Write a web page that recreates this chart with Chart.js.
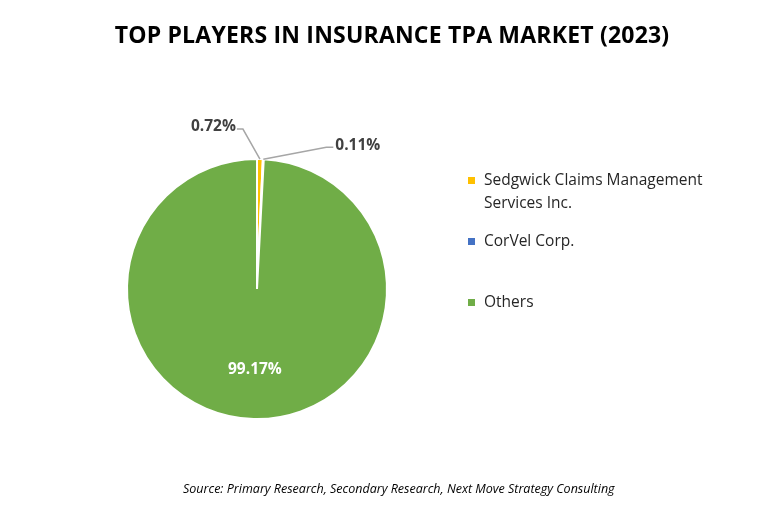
<!DOCTYPE html>
<html><head><meta charset="utf-8">
<script src="https://cdn.jsdelivr.net/npm/chart.js@4"></script>
<style>
body{margin:0;background:#fff;font-family:"Open Sans",sans-serif;}
#wrap{position:relative;width:784px;height:520px;}
#title{position:absolute;top:18px;left:0;width:784px;text-align:center;font-weight:bold;font-size:23px;color:#000;letter-spacing:0.2px}
#legend{position:absolute;left:468px;top:168px;font-size:15.5px;color:#262626;line-height:23px}
.item{position:relative;padding-left:16px;margin-bottom:0}
.sw{position:absolute;left:0;top:9px;width:7px;height:7px}
#src{position:absolute;top:480px;left:183px;font-style:italic;font-size:12.5px;color:#000}
canvas{position:absolute;left:0;top:0}
</style></head><body>
<div id="wrap">
<canvas id="c" width="784" height="520"></canvas>
<div id="title">TOP PLAYERS IN INSURANCE TPA MARKET (2023)</div>
<div id="legend">
<div class="item"><span class="sw" style="background:#FFC000"></span>Sedgwick Claims Management<br>Services Inc.</div>
<div class="item" style="margin-top:15px"><span class="sw" style="background:#4472C4"></span>CorVel Corp.</div>
<div class="item" style="margin-top:38px"><span class="sw" style="background:#70AD47"></span>Others</div>
</div>
<div id="src">Source: Primary Research, Secondary Research, Next Move Strategy Consulting</div>
</div>
<script>
const categories=["Sedgwick Claims Management Services Inc.","CorVel Corp.","Others"];
const values=[0.72,0.11,99.17];
const colors=["#FFC000","#4472C4","#70AD47"];
const labelPlugin={id:'lbl',afterDatasetsDraw(chart){
 const ctx=chart.ctx;const arcs=chart.getDatasetMeta(0).data;
 ctx.save();ctx.font='bold 15.5px "Open Sans"';
 arcs.forEach((a,i)=>{
  const mid=(a.startAngle+a.endAngle)/2;const r=a.outerRadius;
  const txt=values[i].toFixed(2)+'%';
  if(i===2){ctx.fillStyle='#fff';ctx.textAlign='center';ctx.textBaseline='middle';
    ctx.fillText(txt,a.x+Math.cos(mid)*r*0.62,a.y+Math.sin(mid)*r*0.62);return;}
  const sx=a.x+Math.cos(mid)*r,sy=a.y+Math.sin(mid)*r;
  ctx.strokeStyle='#A6A6A6';ctx.lineWidth=1.5;ctx.beginPath();ctx.moveTo(sx,sy);
  ctx.fillStyle='#404040';ctx.textBaseline='middle';
  if(i===0){ctx.lineTo(sx-17,sy-30);ctx.lineTo(sx-23,sy-30);ctx.stroke();ctx.textAlign='right';ctx.fillText(txt,sx-24,sy-32);}
  else{ctx.lineTo(sx+63,sy-12);ctx.lineTo(sx+70,sy-12);ctx.stroke();ctx.textAlign='left';ctx.fillText(txt,sx+72,sy-14);}
 });ctx.restore();}};
new Chart(document.getElementById('c'),{type:'pie',
 data:{labels:categories,datasets:[{data:values,backgroundColor:colors,borderColor:'#fff',borderWidth:2}]},
 options:{responsive:false,animation:false,layout:{padding:{left:126,top:158,right:396,bottom:100}},
  plugins:{legend:{display:false},tooltip:{enabled:false}}},
 plugins:[labelPlugin]});
</script></body></html>
